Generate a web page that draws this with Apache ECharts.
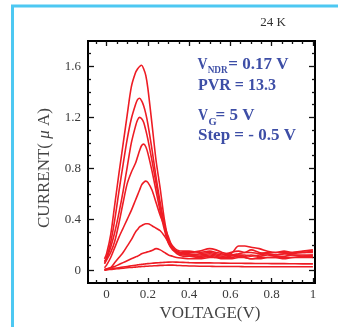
<!DOCTYPE html>
<html><head><meta charset="utf-8">
<script src="https://cdn.jsdelivr.net/npm/echarts@6/dist/echarts.min.js"></script>
<style>html,body{margin:0;padding:0;background:#fff}#c{width:338px;height:327px}</style>
</head><body><div id="c"></div>
<script>
// ---- data ----
const voltage = [-0.01,0,0.02,0.04,0.06,0.08,0.10,0.12,0.14,0.15,0.16,0.17,0.18,0.19,0.20,0.22,0.24,0.26,0.28,0.30,0.32,0.34,0.37,0.40,0.45,0.50,0.53,0.56,0.60,0.64,0.67,0.70,0.74,0.78,0.82,0.86,0.90,0.95,1.00];
const iVg50 = [0.09,0.13,0.28,0.52,0.76,0.99,1.22,1.44,1.55,1.58,1.60,1.61,1.58,1.53,1.43,1.15,0.86,0.64,0.40,0.24,0.19,0.16, 0.15,0.15,0.14,0.15,0.14,0.13,0.12,0.13,0.14,0.14,0.13,0.14,0.14,0.15,0.14,0.15,0.16];
const iVg45 = [0.07,0.10,0.22,0.40,0.62,0.83,1.03,1.19,1.30,1.34,1.35,1.33,1.29,1.23,1.15,0.95,0.73,0.53,0.36,0.23,0.17,0.15, 0.14,0.14,0.15,0.17,0.16,0.14,0.13,0.19,0.19,0.18,0.17,0.15,0.14,0.14,0.13,0.14,0.14];
const iVg40 = [0.06,0.09,0.18,0.30,0.45,0.62,0.81,1.00,1.13,1.18,1.20,1.19,1.16,1.10,1.03,0.86,0.68,0.50,0.35,0.22,0.17,0.15, 0.13,0.12,0.13,0.14,0.13,0.12,0.14,0.15,0.14,0.16,0.14,0.13,0.12,0.13,0.12,0.12,0.12];
const iVg35 = [0.05,0.08,0.14,0.23,0.37,0.53,0.68,0.77,0.84,0.89,0.94,0.98,0.99,0.97,0.92,0.78,0.62,0.46,0.32,0.21,0.16,0.14, 0.13,0.13,0.12,0.13,0.12,0.11,0.12,0.12,0.11,0.12,0.11,0.12,0.11,0.11,0.12,0.11,0.11];
const iVg30 = [0.02,0.04,0.10,0.18,0.26,0.33,0.40,0.47,0.55,0.59,0.63,0.67,0.69,0.70,0.69,0.63,0.53,0.43,0.35,0.26,0.18,0.14, 0.12,0.12,0.11,0.12,0.11,0.10,0.10,0.11,0.10,0.09,0.10,0.10,0.10,0.09,0.10,0.10,0.10];
const iVg25 = [0.01,0.01,0.02,0.06,0.10,0.14,0.19,0.24,0.30,0.32,0.34,0.35,0.36,0.365,0.365,0.35,0.33,0.31,0.27,0.22,0.17,0.13, 0.11,0.11,0.10,0.11,0.10,0.10,0.11,0.12,0.12,0.11,0.12,0.13,0.12,0.13,0.14,0.14,0.15];
const iVg20 = [0.0,0.01,0.02,0.03,0.045,0.06,0.075,0.09,0.105,0.11,0.12,0.13,0.135,0.14,0.145,0.155,0.17,0.16,0.14,0.12,0.11,0.10, 0.095,0.09,0.09,0.10,0.10,0.09,0.09,0.10,0.10,0.09,0.09,0.10,0.10,0.10,0.10,0.11,0.12];
const iVg15 = [0.0,0.005,0.01,0.015,0.02,0.025,0.03,0.035,0.04,0.042,0.044,0.046,0.048,0.05,0.052,0.055,0.058,0.06,0.062,0.064,0.065,0.064, 0.062,0.06,0.058,0.058,0.057,0.056,0.055,0.055,0.054,0.054,0.053,0.053,0.052,0.052,0.051,0.05,0.05];
const iVg10 = [0.0,0.005,0.007,0.01,0.013,0.016,0.02,0.022,0.025,0.026,0.028,0.029,0.03,0.031,0.032,0.034,0.036,0.038,0.039,0.04,0.04,0.038, 0.036,0.034,0.032,0.031,0.03,0.03,0.029,0.029,0.028,0.028,0.028,0.027,0.027,0.027,0.027,0.027,0.027];
const curves = [iVg50, iVg45, iVg40, iVg35, iVg30, iVg25, iVg20, iVg15, iVg10];
const xTicks = [0, 0.2, 0.4, 0.6, 0.8, 1];
const yTicks = [0, 0.4, 0.8, 1.2, 1.6];

// ---- chart ----
const XMIN = -0.09, XMAX = 1.01, YMIN = -0.1, YMAX = 1.8;
const xMinor = [], yMinor = [];
for (let k = -1; k <= 20; k++) { const v = +(k * 0.05).toFixed(2); if (v > XMIN && v < XMAX && !xTicks.includes(v)) xMinor.push(v); }
for (let k = 0; k <= 17; k++) { const v = +(k * 0.1).toFixed(1); if (v > YMIN && v < YMAX && !yTicks.includes(v)) yMinor.push(v); }
const serif = 'Liberation Serif';
const lblFmt = v => (v === 0 ? '0' : v === 1 ? '1' : v.toFixed(1));

function xa(pos, vals, len, labels) {
  return { type: 'value', min: XMIN, max: XMAX, position: pos, axisLine: { show: false, onZero: false }, splitLine: { show: false },
    axisTick: { show: true, inside: true, length: len, customValues: vals, lineStyle: { color: '#111', width: 1.3 } },
    axisLabel: labels ? { show: true, customValues: vals, formatter: lblFmt, margin: 5, fontFamily: serif, fontSize: 13, color: '#3a3a3a' } : { show: false } };
}
function ya(pos, vals, len, labels) {
  return { type: 'value', min: YMIN, max: YMAX, position: pos, axisLine: { show: false, onZero: false }, splitLine: { show: false },
    axisTick: { show: true, inside: true, length: len, customValues: vals, lineStyle: { color: '#111', width: 1.3 } },
    axisLabel: labels ? { show: true, customValues: vals, formatter: lblFmt, margin: 7, fontFamily: serif, fontSize: 13, color: '#3a3a3a' } : { show: false } };
}

const chart = echarts.init(document.getElementById('c'), null, { renderer: 'canvas' });
const blue = '#3d4ea6';
const bf = sz => 'bold ' + sz + 'px "Liberation Serif"';
chart.setOption({
  animation: false,
  grid: { left: 88, right: 23, top: 41, bottom: 44, show: true, borderColor: '#000', borderWidth: 2, backgroundColor: 'transparent' },
  xAxis: [xa('bottom', xTicks, 5, true), xa('bottom', xMinor, 3, false), xa('top', xTicks, 5, false), xa('top', xMinor, 3, false)],
  yAxis: [ya('left', yTicks, 6, true), ya('left', yMinor, 3, false), ya('right', yTicks, 6, false), ya('right', yMinor, 3, false)],
  series: curves.map(c => ({
    type: 'line', xAxisIndex: 0, yAxisIndex: 0, showSymbol: false, smooth: 0.3,
    data: voltage.map((v, i) => [v, c[i]]),
    lineStyle: { color: '#ee1c24', width: 1.6 }, silent: true
  })),
  graphic: [
    { type: 'polyline', shape: { points: [[12.5, 327], [12.5, 6], [338, 6]] }, style: { stroke: '#4dc8f2', lineWidth: 3, fill: null } },
    { type: 'text', x: 273, y: 23, style: { text: '24 K', font: '13px "Liberation Serif"', fill: '#333', align: 'center', verticalAlign: 'middle' } },
    { type: 'text', x: 210, y: 314, style: { text: 'VOLTAGE(V)', font: '17px "Liberation Serif"', fill: '#444', align: 'center', verticalAlign: 'middle' } },
    { type: 'text', x: 45, y: 168, rotation: Math.PI / 2, style: { text: '{a|CURRENT( }{b|μ}{a| A)}', align: 'center', verticalAlign: 'middle', fill: '#444',
        rich: { a: { font: '17px "Liberation Serif"', fill: '#444' }, b: { font: 'italic 17px "Liberation Serif"', fill: '#444' } } } },
    { type: 'text', x: 197.5, y: 64.5, scaleX: 0.82, style: { text: 'V', font: bf(17), fill: blue, verticalAlign: 'middle' } },
    { type: 'text', x: 207.7, y: 70.5, scaleX: 0.88, style: { text: 'NDR', font: bf(10.5), fill: blue, verticalAlign: 'middle' } },
    { type: 'text', x: 228.3, y: 64.5, style: { text: '= 0.17 V', font: bf(17), fill: blue, verticalAlign: 'middle' } },
    { type: 'text', x: 198, y: 85.5, scaleX: 0.94, style: { text: 'PVR = 13.3', font: bf(17), fill: blue, verticalAlign: 'middle' } },
    { type: 'text', x: 198, y: 116, scaleX: 0.82, style: { text: 'V', font: bf(17), fill: blue, verticalAlign: 'middle' } },
    { type: 'text', x: 208.5, y: 122, style: { text: 'G', font: bf(10.5), fill: blue, verticalAlign: 'middle' } },
    { type: 'text', x: 215.5, y: 116, style: { text: '= 5 V', font: bf(17), fill: blue, verticalAlign: 'middle' } },
    { type: 'text', x: 198, y: 135.5, style: { text: 'Step = - 0.5 V', font: bf(17), fill: blue, verticalAlign: 'middle' } }
  ]
});
</script></body></html>
